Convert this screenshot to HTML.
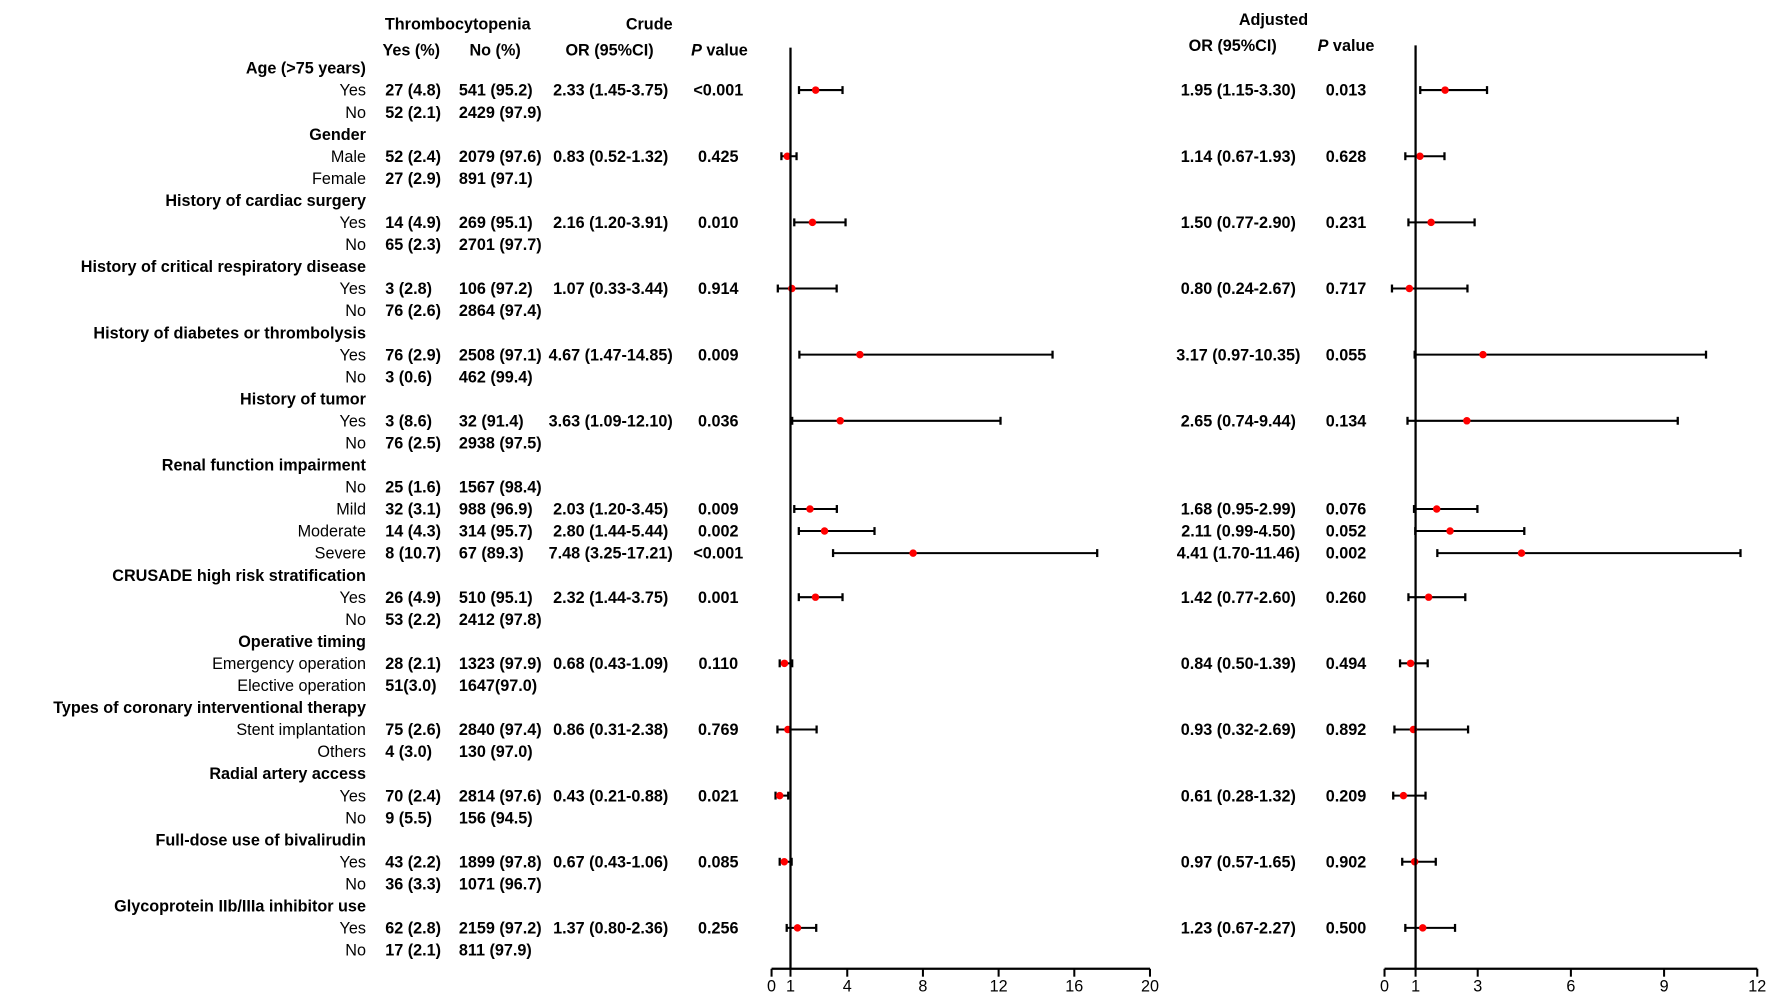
<!DOCTYPE html>
<html><head><meta charset="utf-8"><style>
html,body{margin:0;padding:0;background:#fff;}
svg{display:block;}
text{font-family:"Liberation Sans",Arial,sans-serif;font-size:14.3px;fill:#000;}
.b{font-weight:bold;}
</style></head><body>
<svg id="chart" width="1772" height="996" viewBox="0 0 1564 879" xmlns="http://www.w3.org/2000/svg">
<g id="hdr">
<text class="b" x="404" y="26" text-anchor="middle">Thrombocytopenia</text>
<text class="b" x="573" y="26" text-anchor="middle">Crude</text>
<text class="b" x="363" y="49" text-anchor="middle">Yes (%)</text>
<text class="b" x="437" y="49" text-anchor="middle">No (%)</text>
<text class="b" x="538" y="49" text-anchor="middle">OR (95%CI)</text>
<text class="b" x="635" y="49" text-anchor="middle"><tspan font-style="italic">P</tspan> value</text>
<text class="b" x="1124" y="22" text-anchor="middle">Adjusted</text>
<text class="b" x="1088" y="45" text-anchor="middle">OR (95%CI)</text>
<text class="b" x="1188" y="45" text-anchor="middle"><tspan font-style="italic">P</tspan> value</text>
</g>
<g id="rows"></g>
<g id="marks"></g>
<g id="axes"></g>
</svg>
<script>
const labels=["Age (>75 years)","Yes","No","Gender","Male","Female","History of cardiac surgery","Yes","No","History of critical respiratory disease","Yes","No","History of diabetes or thrombolysis","Yes","No","History of tumor","Yes","No","Renal function impairment","No","Mild","Moderate","Severe","CRUSADE high risk stratification","Yes","No","Operative timing","Emergency operation","Elective operation","Types of coronary interventional therapy","Stent implantation","Others","Radial artery access","Yes","No","Full-dose use of bivalirudin","Yes","No","Glycoprotein IIb/IIIa inhibitor use","Yes","No"];
const isHeader=[1,0,0,1,0,0,1,0,0,1,0,0,1,0,0,1,0,0,1,0,0,0,0,1,0,0,1,0,0,1,0,0,1,0,0,1,0,0,1,0,0];
const yesCol=["","27 (4.8)","52 (2.1)","","52 (2.4)","27 (2.9)","","14 (4.9)","65 (2.3)","","3 (2.8)","76 (2.6)","","76 (2.9)","3 (0.6)","","3 (8.6)","76 (2.5)","","25 (1.6)","32 (3.1)","14 (4.3)","8 (10.7)","","26 (4.9)","53 (2.2)","","28 (2.1)","51(3.0)","","75 (2.6)","4 (3.0)","","70 (2.4)","9 (5.5)","","43 (2.2)","36 (3.3)","","62 (2.8)","17 (2.1)"];
const noCol=["","541 (95.2)","2429 (97.9)","","2079 (97.6)","891 (97.1)","","269 (95.1)","2701 (97.7)","","106 (97.2)","2864 (97.4)","","2508 (97.1)","462 (99.4)","","32 (91.4)","2938 (97.5)","","1567 (98.4)","988 (96.9)","314 (95.7)","67 (89.3)","","510 (95.1)","2412 (97.8)","","1323 (97.9)","1647(97.0)","","2840 (97.4)","130 (97.0)","","2814 (97.6)","156 (94.5)","","1899 (97.8)","1071 (96.7)","","2159 (97.2)","811 (97.9)"];
const estRows=[1,4,7,10,13,16,20,21,22,24,27,30,33,36,39];
const crudeOR=[2.33,0.83,2.16,1.07,4.67,3.63,2.03,2.80,7.48,2.32,0.68,0.86,0.43,0.67,1.37];
const crudeLo=[1.45,0.52,1.20,0.33,1.47,1.09,1.20,1.44,3.25,1.44,0.43,0.31,0.21,0.43,0.80];
const crudeHi=[3.75,1.32,3.91,3.44,14.85,12.10,3.45,5.44,17.21,3.75,1.09,2.38,0.88,1.06,2.36];
const crudeP=["<0.001","0.425","0.010","0.914","0.009","0.036","0.009","0.002","<0.001","0.001","0.110","0.769","0.021","0.085","0.256"];
const adjOR=[1.95,1.14,1.50,0.80,3.17,2.65,1.68,2.11,4.41,1.42,0.84,0.93,0.61,0.97,1.23];
const adjLo=[1.15,0.67,0.77,0.24,0.97,0.74,0.95,0.99,1.70,0.77,0.50,0.32,0.28,0.57,0.67];
const adjHi=[3.30,1.93,2.90,2.67,10.35,9.44,2.99,4.50,11.46,2.60,1.39,2.69,1.32,1.65,2.27];
const adjP=["0.013","0.628","0.231","0.717","0.055","0.134","0.076","0.052","0.002","0.260","0.494","0.892","0.209","0.902","0.500"];
const crudeTicks=[0,1,4,8,12,16,20];
const adjTicks=[0,1,3,6,9,12];

const NS="http://www.w3.org/2000/svg";
const rowY=i=>60+i*19.46;
const xC=v=>681+v*(1015-681)/20;
const xA=v=>1222+v*(1551-1222)/12;
const axisY=855;
function mk(tag,attrs,parent,txt){const e=document.createElementNS(NS,tag);for(const k in attrs)e.setAttribute(k,attrs[k]);if(txt!==undefined)e.textContent=txt;parent.appendChild(e);return e;}
const rows=document.getElementById('rows'),marks=document.getElementById('marks'),axes=document.getElementById('axes');
labels.forEach((l,i)=>{
  const y=rowY(i)+5;
  const t=mk('text',{x:323,y:y,'text-anchor':'end',class:isHeader[i]?'b':''},rows,l);
  
  
  if(yesCol[i]){const a=mk('text',{x:340,y:y,class:'b'},rows,yesCol[i]);
    
    }
  if(noCol[i]){const a=mk('text',{x:405,y:y,class:'b'},rows,noCol[i]);
    
    }
});
function fmt(v){return v.toFixed(2);}
function drawSeries(or,lo,hi,pv,xf,orX,pX,name){
  estRows.forEach((r,k)=>{
    const y=rowY(r);
    const t1=mk('text',{x:orX,y:y+5,'text-anchor':'middle',class:'b'},rows,fmt(or[k])+' ('+fmt(lo[k])+'-'+fmt(hi[k])+')');
    
    
    const t2=mk('text',{x:pX,y:y+5,'text-anchor':'middle',class:'b'},rows,pv[k]);
    
    
    const g=mk('g',{},marks);
    
    
    mk('line',{x1:xf(lo[k]),x2:xf(hi[k]),y1:y,y2:y,stroke:'#000','stroke-width':1.8},g);
    mk('line',{x1:xf(lo[k]),x2:xf(lo[k]),y1:y-3.5,y2:y+3.5,stroke:'#000','stroke-width':2},g);
    mk('line',{x1:xf(hi[k]),x2:xf(hi[k]),y1:y-3.5,y2:y+3.5,stroke:'#000','stroke-width':2},g);
    mk('circle',{cx:xf(or[k]),cy:y,r:3.3,fill:'#ff0000'},g);
  });
}
drawSeries(crudeOR,crudeLo,crudeHi,crudeP,xC,539,634,'crude');
drawSeries(adjOR,adjLo,adjHi,adjP,xA,1093,1188,'adjusted');
function drawAxis(ticks,xf,max,top,name){
  const g=mk('g',{},axes);
  
  
  mk('line',{x1:xf(1),x2:xf(1),y1:top,y2:axisY,stroke:'#000','stroke-width':2},g);
  mk('line',{x1:xf(0),x2:xf(max),y1:axisY,y2:axisY,stroke:'#000','stroke-width':2},g);
  ticks.forEach(v=>{
    mk('line',{x1:xf(v),x2:xf(v),y1:axisY,y2:axisY+7,stroke:'#000','stroke-width':1.8},g);
    const t=mk('text',{x:xf(v),y:axisY+20,'text-anchor':'middle','font-size':'16px'},g,String(v));
    
    
  });
}
drawAxis(crudeTicks,xC,20,42,'crude');
drawAxis(adjTicks,xA,12,40,'adjusted');
</script>
</body></html>
